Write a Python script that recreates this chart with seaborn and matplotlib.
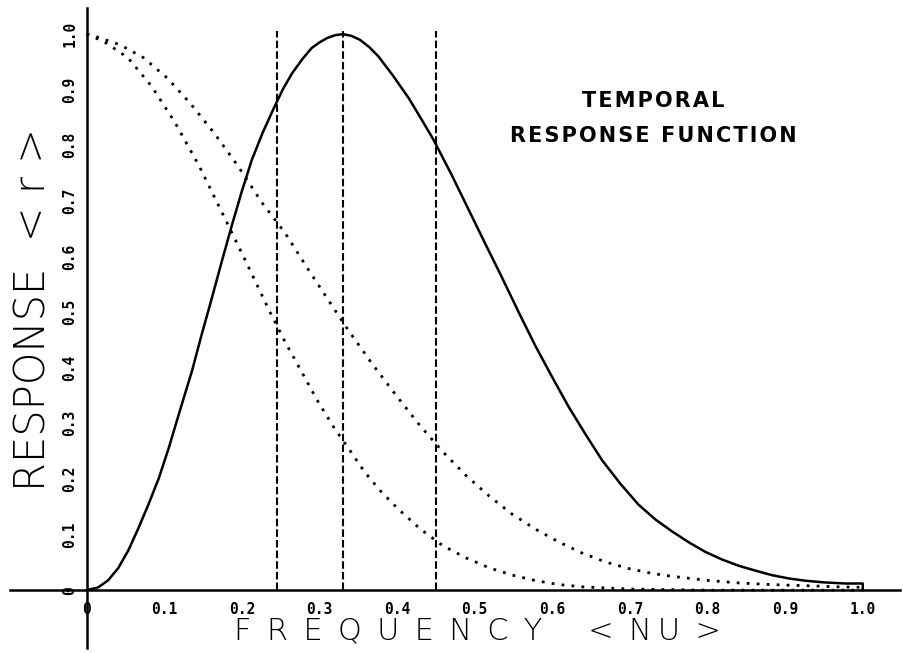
import matplotlib
matplotlib.use("Agg")
import matplotlib.pyplot as plt
import seaborn as sns
import pandas as pd

# ---- data ----
nu_solid = [0.000, 0.015, 0.028, 0.041, 0.054, 0.067, 0.080, 0.093, 0.106, 0.119,
            0.136, 0.148, 0.161, 0.174, 0.187, 0.200, 0.213, 0.227, 0.241, 0.253,
            0.265, 0.278, 0.290, 0.300, 0.310, 0.320, 0.330, 0.341, 0.352, 0.364,
            0.376, 0.395, 0.415, 0.431, 0.447, 0.470, 0.492, 0.513, 0.535, 0.556,
            0.578, 0.600, 0.621, 0.643, 0.664, 0.688, 0.711, 0.733, 0.754, 0.776,
            0.797, 0.819, 0.840, 0.862, 0.883, 0.905, 0.926, 0.950, 0.978, 1.000,
            1.000]
r_solid = [0.000, 0.005, 0.018, 0.040, 0.072, 0.112, 0.155, 0.201, 0.256, 0.317,
           0.395, 0.458, 0.523, 0.590, 0.655, 0.717, 0.774, 0.823, 0.866, 0.901,
           0.930, 0.955, 0.975, 0.985, 0.993, 0.998, 1.000, 0.997, 0.990, 0.977,
           0.960, 0.925, 0.885, 0.848, 0.810, 0.748, 0.685, 0.625, 0.563, 0.502,
           0.440, 0.383, 0.330, 0.280, 0.234, 0.191, 0.154, 0.127, 0.106, 0.086,
           0.069, 0.055, 0.044, 0.035, 0.027, 0.021, 0.017, 0.014, 0.012, 0.012,
           0.000]

nu_upper = [0.0, 0.011, 0.043, 0.073, 0.104, 0.134, 0.165, 0.195, 0.226, 0.256,
            0.286, 0.317, 0.337, 0.368, 0.399, 0.429, 0.459, 0.489, 0.519, 0.548,
            0.578, 0.608, 0.638, 0.668, 0.698, 0.729, 0.754, 0.797, 0.840, 0.883,
            0.926, 0.969, 1.0]
r_upper = [1.0, 0.996, 0.981, 0.958, 0.921, 0.875, 0.821, 0.763, 0.697, 0.642,
           0.576, 0.510, 0.468, 0.407, 0.350, 0.297, 0.249, 0.206, 0.169, 0.137,
           0.110, 0.087, 0.067, 0.051, 0.039, 0.030, 0.025, 0.018, 0.013, 0.010,
           0.008, 0.006, 0.005]

nu_lower = [0.0, 0.022, 0.053, 0.084, 0.114, 0.145, 0.175, 0.206, 0.236, 0.256,
            0.277, 0.297, 0.318, 0.339, 0.358, 0.379, 0.400, 0.430, 0.459, 0.489,
            0.519, 0.549, 0.579, 0.609, 0.639, 0.700, 0.800, 0.900, 1.0]
r_lower = [1.0, 0.987, 0.958, 0.906, 0.841, 0.763, 0.678, 0.589, 0.501, 0.446,
           0.393, 0.342, 0.294, 0.252, 0.213, 0.178, 0.148, 0.110, 0.080, 0.058,
           0.040, 0.027, 0.017, 0.010, 0.006, 0.002, 0.0, 0.0, 0.0]

cutoffs = [0.245, 0.33, 0.45]
cutoff_top = 1.005

tick_vals = [0.0, 0.1, 0.2, 0.3, 0.4, 0.5, 0.6, 0.7, 0.8, 0.9, 1.0]
tick_labels = ["0", "0.1", "0.2", "0.3", "0.4", "0.5", "0.6", "0.7", "0.8", "0.9", "1.0"]

x_word, x_unit = "FREQUENCY", "NU"
y_label = "RESPONSE  < r >"
title_lines = ["TEMPORAL", "RESPONSE FUNCTION"]


def spaced(text, sep):
    return sep.join(text)


# ---- plotting ----
sns.set_theme(style="white")
plt.rcParams["font.family"] = ["DejaVu Sans"]

fig = plt.figure(figsize=(9.04, 6.53), dpi=100)
ax = fig.add_axes([10 / 904, 5 / 653, 890 / 904, 640 / 653])

xmin, xmax = -0.0986, 1.048
ymin, ymax = -0.104, 1.047

df_s = pd.DataFrame({"nu": nu_solid, "r": r_solid})
df_u = pd.DataFrame({"nu": nu_upper, "r": r_upper})
df_l = pd.DataFrame({"nu": nu_lower, "r": r_lower})

sns.lineplot(data=df_s, x="nu", y="r", ax=ax, color="black", lw=1.8,
             estimator=None, sort=False)
sns.lineplot(data=df_u, x="nu", y="r", ax=ax, color="black", lw=2.0,
             estimator=None, sort=False, linestyle=(0, (1, 2.6)))
sns.lineplot(data=df_l, x="nu", y="r", ax=ax, color="black", lw=2.0,
             estimator=None, sort=False, linestyle=(0, (1, 2.6)))

ax.vlines(cutoffs, 0, cutoff_top, colors="black", lw=1.5,
          linestyles=[(0, (3.6, 1.5))])

ax.set_xlim(xmin, xmax)
ax.set_ylim(ymin, ymax)

for s in ["top", "right"]:
    ax.spines[s].set_visible(False)
for s in ["left", "bottom"]:
    ax.spines[s].set_position(("data", 0))
    ax.spines[s].set_linewidth(1.8)
    ax.spines[s].set_color("black")

ax.set_xticks([xmin + 0.002] + tick_vals)
ax.set_xticklabels([""] + tick_labels)
ax.set_yticks([ymin + 0.002] + tick_vals)
ax.set_yticklabels([""] + tick_labels, rotation=90, va="center")

for lab in ax.get_xticklabels() + ax.get_yticklabels():
    lab.set_fontfamily("DejaVu Sans Mono")
    lab.set_fontweight("bold")
    lab.set_fontsize(10.5)

ax.tick_params(axis="x", direction="inout", length=9, width=1.5,
               colors="black", pad=4)
ax.tick_params(axis="y", direction="inout", length=9, width=1.5,
               colors="black", pad=2)
ax.set_xlabel("")
ax.set_ylabel("")

# axis titles (wide, thin lettering like the plotter font)
x_text = (spaced(x_word, "\u2002") + "\u2003\u2002<\u2002"
          + spaced(x_unit, "\u2009") + "\u2002>")
fig.text(477 / 904, 1 - 631 / 653, x_text, ha="center", va="center",
         fontsize=22, family="DejaVu Sans", fontweight="light", color="black")
fig.text(33 / 904, 1 - 309 / 653, y_label, ha="center", va="center",
         rotation=90, fontsize=30, family="DejaVu Sans", fontweight="light",
         color="black")
title_text = "\n".join(spaced(line, "\u200a") for line in title_lines)
fig.text(653 / 904, 1 - 118.5 / 653, title_text, ha="center", va="center",
         fontsize=15, family="DejaVu Sans", fontweight="bold",
         linespacing=1.9, color="black")

fig.savefig("out.png", dpi=100, facecolor="white")
